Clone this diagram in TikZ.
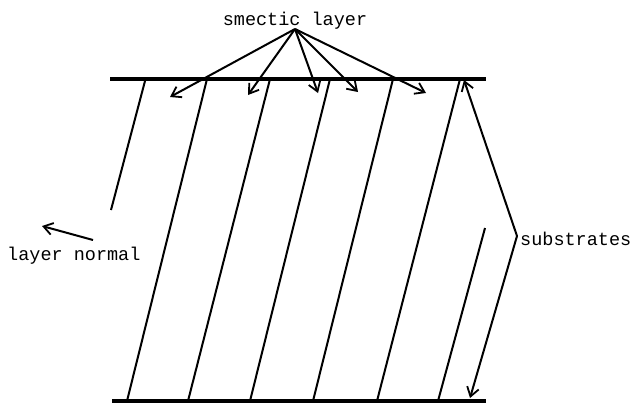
\documentclass[tikz,border=0pt]{standalone}
\usepackage{fontspec}
\setmonofont{Liberation Mono}
\usepackage{tikz}
\usetikzlibrary{arrows.meta}

\begin{document}
\begin{tikzpicture}[
  x=1pt, y=-1pt,
  substrate/.style={line width=3.2pt},
  layerline/.style={line width=2pt},
  pointer/.style={line width=2pt, -{Straight Barb[length=9pt, width=12pt, line width=1.8pt]}},
  annot/.style={font=\ttfamily\fontsize{18.5}{20}\selectfont, inner sep=0pt}
]
\useasboundingbox (0,0) rectangle (636,405);

% ---- Substrates ----
\coordinate (stl) at (110,79);
\coordinate (str) at (486,79);
\coordinate (sbl) at (112,401);
\coordinate (sbr) at (486,401);
\draw[substrate] (stl) -- (str);
\draw[substrate] (sbl) -- (sbr);

% ---- Smectic layers (tilted) ----
\coordinate (t1) at (145,81);  \coordinate (b1) at (111,210);
\coordinate (t2) at (207,79);  \coordinate (b2) at (127,401);
\coordinate (t3) at (270,79);  \coordinate (b3) at (188,401);
\coordinate (t4) at (330,79);  \coordinate (b4) at (250,401);
\coordinate (t5) at (393,79);  \coordinate (b5) at (313,401);
\coordinate (t6) at (460,79);  \coordinate (b6) at (377,401);
\coordinate (t7) at (485,228); \coordinate (b7) at (438,401);
\draw[layerline] (t1) -- (b1);
\draw[layerline] (t2) -- (b2);
\draw[layerline] (t3) -- (b3);
\draw[layerline] (t4) -- (b4);
\draw[layerline] (t5) -- (b5);
\draw[layerline] (t6) -- (b6);
\draw[layerline] (t7) -- (b7);

% Label for the layers
\node[annot, anchor=base] (smectic) at (295,25) {smectic layer};
\coordinate (src) at (295,29);
\coordinate (a1) at (170,97);
\coordinate (a2) at (248,95);
\coordinate (a3) at (318,93);
\coordinate (a4) at (358,92);
\coordinate (a5) at (426,93);
\draw[pointer] (src) -- (a1);
\draw[pointer] (src) -- (a2);
\draw[pointer] (src) -- (a3);
\draw[pointer] (src) -- (a4);
\draw[pointer] (src) -- (a5);

% ---- Substrates label ----
\node[annot, anchor=base west] (subs) at (520,245) {substrates};
\coordinate (vtx) at (517,236);
\coordinate (up) at (464,80);
\coordinate (dn) at (470,398);
\draw[pointer] (vtx) -- (up);
\draw[pointer] (vtx) -- (dn);

% ---- Layer normal ----
\node[annot, anchor=base west] (normal) at (7,260) {layer normal};
\coordinate (ntail) at (93,240);
\coordinate (nhead) at (42,226);
\draw[pointer] (ntail) -- (nhead);

\end{tikzpicture}
\end{document}
